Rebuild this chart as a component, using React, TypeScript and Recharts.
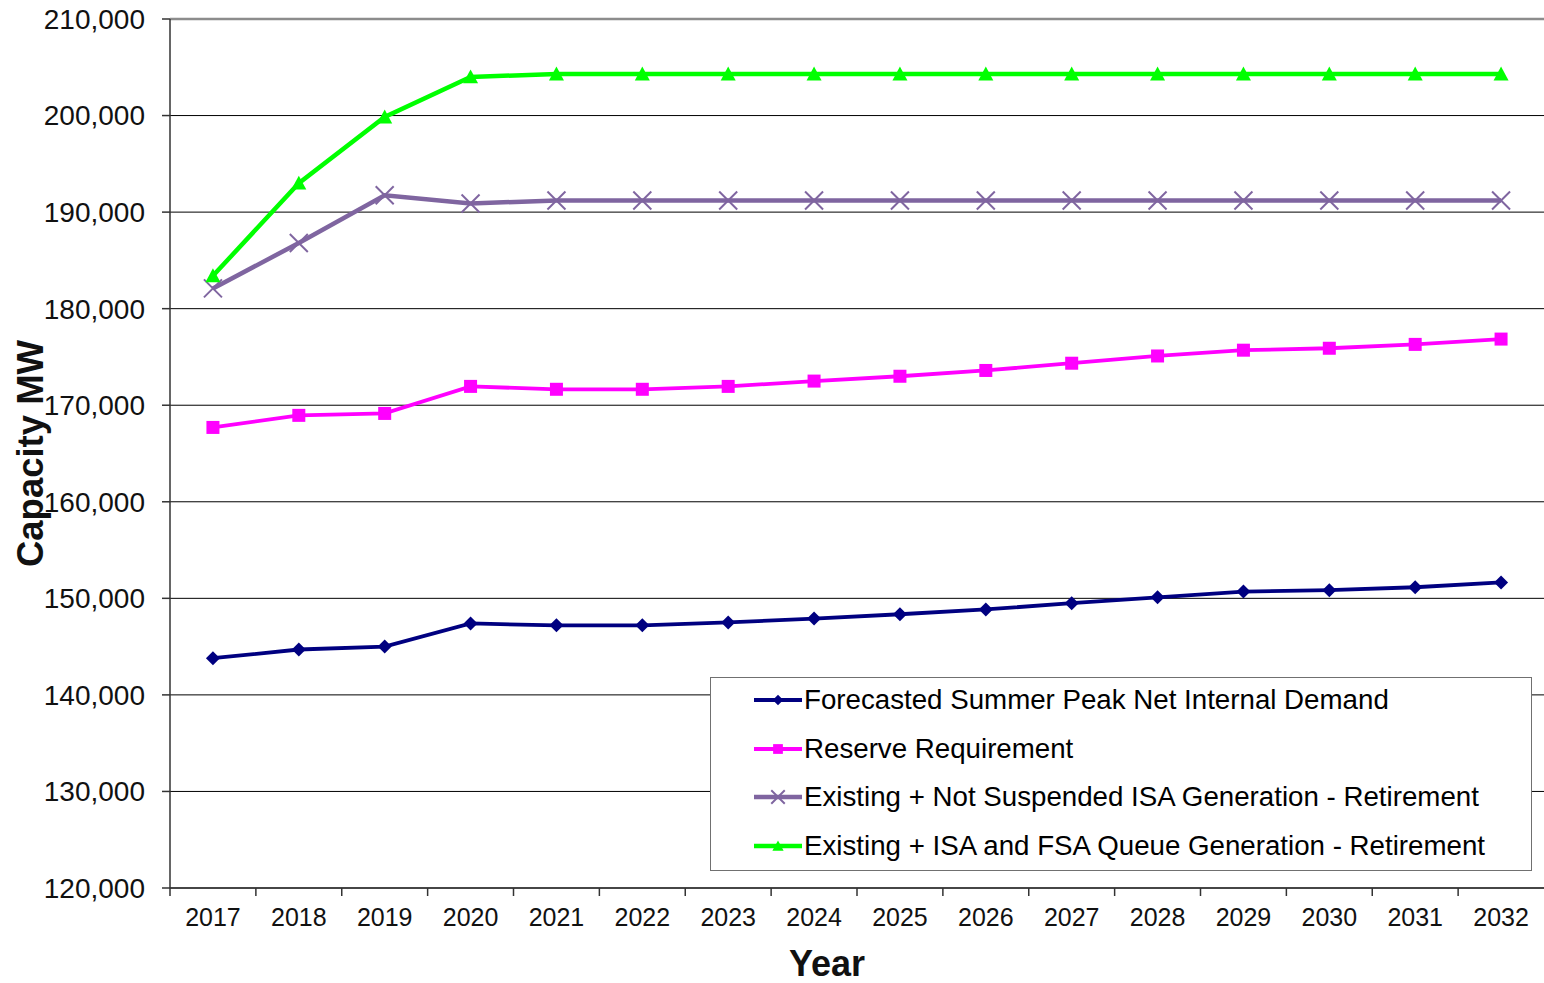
import React from "react";
import {
  LineChart,
  Line,
  XAxis,
  YAxis,
  CartesianGrid,
  ReferenceLine,
  Legend,
} from "recharts";

const years = ["2017", "2018", "2019", "2020", "2021", "2022", "2023", "2024", "2025", "2026", "2027", "2028", "2029", "2030", "2031", "2032"];
const demand = [143800, 144700, 145000, 147400, 147200, 147200, 147500, 147900, 148350, 148850, 149500, 150100, 150700, 150850, 151150, 151650];
const reserve = [167700, 168950, 169150, 171950, 171650, 171650, 171950, 172500, 173000, 173600, 174350, 175100, 175700, 175900, 176300, 176850];
const notSuspended = [182100, 186800, 191750, 190900, 191200, 191200, 191200, 191200, 191200, 191200, 191200, 191200, 191200, 191200, 191200, 191200];
const queueGen = [183400, 193000, 199850, 204000, 204300, 204300, 204300, 204300, 204300, 204300, 204300, 204300, 204300, 204300, 204300, 204300];
const yTicks = [120000, 130000, 140000, 150000, 160000, 170000, 180000, 190000, 200000, 210000];

const seriesNames = [
  "Forecasted Summer Peak Net Internal Demand",
  "Reserve Requirement",
  "Existing + Not Suspended ISA Generation - Retirement",
  "Existing + ISA and FSA Queue Generation - Retirement",
];
const seriesKeys = ["demand", "reserve", "notSuspended", "queueGen"];
const seriesColors = ["#000080", "#FF00FF", "#7F65A0", "#00FF00"];
const seriesMarkers = ["diamond", "square", "cross", "triangle"];
const seriesWidths = [3.8, 3.8, 4.5, 4.5];

const data = years.map((y, i) => ({
  year: y,
  demand: demand[i],
  reserve: reserve[i],
  notSuspended: notSuspended[i],
  queueGen: queueGen[i],
}));

const FONT = "'Liberation Sans', Arial, sans-serif";

function Marker({ kind, cx, cy, color, scale = 1 }: any) {
  if (cx == null || cy == null) return null;
  const s = scale;
  if (kind === "diamond") {
    const r = 7 * s;
    return <polygon points={`${cx},${cy - r} ${cx + r},${cy} ${cx},${cy + r} ${cx - r},${cy}`} fill={color} />;
  }
  if (kind === "square") {
    const r = 6.5 * s;
    return <rect x={cx - r} y={cy - r} width={2 * r} height={2 * r} fill={color} />;
  }
  if (kind === "cross") {
    const r = 9 * s;
    return (
      <g stroke={color} strokeWidth={2}>
        <line x1={cx - r} y1={cy - r} x2={cx + r} y2={cy + r} />
        <line x1={cx - r} y1={cy + r} x2={cx + r} y2={cy - r} />
      </g>
    );
  }
  const r = 7.5 * s;
  return <polygon points={`${cx},${cy - r} ${cx + r},${cy + r * 0.85} ${cx - r},${cy + r * 0.85}`} fill={color} />;
}

function XTick(props: any) {
  const { x, y, payload } = props;
  const half = payload && payload.offset ? payload.offset : 1374 / 32;
  const axisY = y - 16;
  return (
    <g>
      <line x1={x - half} y1={axisY} x2={x - half} y2={axisY + 8} stroke="#333" strokeWidth={1.5} />
      <text x={x} y={axisY + 38} textAnchor="middle" fontSize={25} fontFamily={FONT} fill="#111">
        {payload.value}
      </text>
    </g>
  );
}

function LegendBox() {
  return (
    <div
      style={{
        position: "relative",
        width: 822,
        height: 194,
        boxSizing: "border-box",
        border: "1px solid #707070",
        background: "#fff",
        fontFamily: FONT,
      }}
    >
      {seriesNames.map((name, i) => (
        <div
          key={name}
          style={{
            position: "absolute",
            left: 42,
            top: 22 + i * 48.7 - 20,
            height: 40,
            display: "flex",
            alignItems: "center",
            whiteSpace: "nowrap",
          }}
        >
          <svg width={50} height={40} style={{ display: "block" }}>
            <line x1={1} y1={20} x2={49} y2={20} stroke={seriesColors[i]} strokeWidth={seriesWidths[i]} />
            <Marker kind={seriesMarkers[i]} cx={25} cy={20} color={seriesColors[i]} scale={0.75} />
          </svg>
          <span style={{ fontSize: 27.7, color: "#000", marginLeft: 1 }}>{name}</span>
        </div>
      ))}
    </div>
  );
}

export default function App() {
  return (
    <div style={{ position: "absolute", left: 0, top: 0, width: 1544, height: 983, background: "#fff" }}>
      <LineChart
        width={1544}
        height={983}
        data={data}
        margin={{ top: 19, right: 0, bottom: 35, left: 0 }}
        style={{ fontFamily: FONT }}
      >
        <CartesianGrid horizontal={true} vertical={false} stroke="#000" strokeWidth={1} />
        <XAxis
          dataKey="year"
          scale="band"
          height={60}
          axisLine={{ stroke: "#333", strokeWidth: 1.5 }}
          tickLine={false}
          tickSize={8}
          tickMargin={8}
          interval={0}
          tick={<XTick />}
          label={{
            value: "Year",
            content: (p: any) => {
              const vb = p.viewBox || { x: 170, y: 888, width: 1374 };
              return (
                <text x={vb.x + vb.width / 2 - 30} y={vb.y + 88} textAnchor="middle" fontSize={36} fontWeight="bold" fontFamily={FONT} fill="#111">
                  Year
                </text>
              );
            },
          }}
        />
        <YAxis
          type="number"
          width={170}
          domain={[120000, 210000]}
          ticks={yTicks}
          interval={0}
          allowDataOverflow
          axisLine={{ stroke: "#333", strokeWidth: 1.5 }}
          tickLine={{ stroke: "#333", strokeWidth: 1.5 }}
          tickSize={8}
          tickMargin={17}
          tick={{ fontSize: 28, fill: "#111", fontFamily: FONT }}
          tickFormatter={(v: number) => v.toLocaleString("en-US")}
          label={{
            value: "Capacity MW",
            content: (p: any) => {
              const vb = p.viewBox || { x: 0, y: 19, width: 170, height: 869 };
              const cx = vb.x + 30;
              const cy = vb.y + vb.height / 2;
              return (
                <text x={cx} y={cy} transform={`rotate(-90, ${cx}, ${cy})`} textAnchor="middle" dominantBaseline="central" fontSize={36.5} fontWeight="bold" fontFamily={FONT} fill="#111">
                  Capacity MW
                </text>
              );
            },
          }}
        />
        <ReferenceLine y={210000} stroke="#8c8c8c" strokeWidth={2.5} />
        {seriesKeys.map((k, i) => (
          <Line
            key={k}
            type="linear"
            dataKey={k}
            name={seriesNames[i]}
            stroke={seriesColors[i]}
            strokeWidth={seriesWidths[i]}
            isAnimationActive={false}
            activeDot={false}
            dot={(p: any) => <Marker key={`${k}-${p.index}`} kind={seriesMarkers[i]} cx={p.cx} cy={p.cy} color={seriesColors[i]} />}
          />
        ))}
        <Legend
          layout="vertical"
          align="center"
          verticalAlign="middle"
          wrapperStyle={{ left: 710, top: 677, width: 822, height: 194 }}
          content={() => <LegendBox />}
        />
      </LineChart>
    </div>
  );
}
